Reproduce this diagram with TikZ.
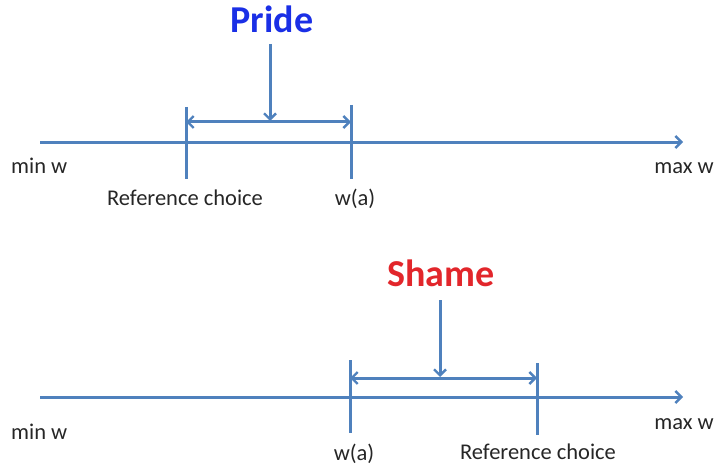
\documentclass[tikz,border=0pt]{standalone}
\usepackage{fontspec}
\setmainfont{Carlito}
\usetikzlibrary{arrows.meta}
\definecolor{axisblue}{HTML}{4F81BD}
\definecolor{prideblue}{HTML}{1A2FE6}
\definecolor{shamered}{HTML}{E2262B}
\tikzset{
  ln/.style={draw=axisblue, line width=3pt},
  arr/.style={ln, -{Straight Barb[length=6pt,width=12pt,line width=2.4pt]}},
  darr/.style={ln, {Straight Barb[length=6pt,width=12pt,line width=2.4pt]}-{Straight Barb[length=6pt,width=12pt,line width=2.4pt]}},
  lbl/.style={font=\fontsize{22.5}{26}\selectfont, inner sep=0pt, text=black!85},
  ttl/.style={font=\fontsize{38}{42}\selectfont\bfseries, inner sep=0pt}
}
\begin{document}
\begin{tikzpicture}[x=1pt,y=-1pt]
\useasboundingbox (0,0) rectangle (717,468);
% ---- top: Pride ----
\coordinate (a1s) at (40,142);
\coordinate (a1e) at (683,142);
\coordinate (r1t) at (186,107);
\coordinate (r1b) at (186,179);
\coordinate (w1t) at (351,105);
\coordinate (w1b) at (351,179);
\coordinate (d1l) at (186,122);
\coordinate (d1r) at (351,122);
\coordinate (p1t) at (270,44);
\coordinate (p1b) at (270,121);
\draw[arr] (a1s) -- (a1e);
\draw[ln] (r1t) -- (r1b);
\draw[ln] (w1t) -- (w1b);
\draw[darr] (d1l) -- (d1r);
\draw[arr] (p1t) -- (p1b);
\node[ttl, text=prideblue, anchor=base] (pride) at (272,33) {Pride};
\node[lbl, anchor=base west] (min1) at (11,173) {min w};
\node[lbl, anchor=base east] (max1) at (714,173) {max w};
\node[lbl, anchor=base] (ref1) at (185,205) {Reference choice};
\node[lbl, anchor=base] (wa1) at (355,205) {w(a)};
% ---- bottom: Shame ----
\coordinate (a2s) at (40,397);
\coordinate (a2e) at (683,397);
\coordinate (w2t) at (350,360);
\coordinate (w2b) at (350,433);
\coordinate (r2t) at (537,363);
\coordinate (r2b) at (537,435);
\coordinate (d2l) at (350,378);
\coordinate (d2r) at (537,378);
\coordinate (p2t) at (440,300);
\coordinate (p2b) at (440,377);
\draw[arr] (a2s) -- (a2e);
\draw[ln] (w2t) -- (w2b);
\draw[ln] (r2t) -- (r2b);
\draw[darr] (d2l) -- (d2r);
\draw[arr] (p2t) -- (p2b);
\node[ttl, text=shamered, anchor=base] (shame) at (441,286) {Shame};
\node[lbl, anchor=base west] (min2) at (11,439) {min w};
\node[lbl, anchor=base east] (max2) at (714,429) {max w};
\node[lbl, anchor=base] (wa2) at (354,460) {w(a)};
\node[lbl, anchor=base] (ref2) at (538,459) {Reference choice};
\end{tikzpicture}
\end{document}
